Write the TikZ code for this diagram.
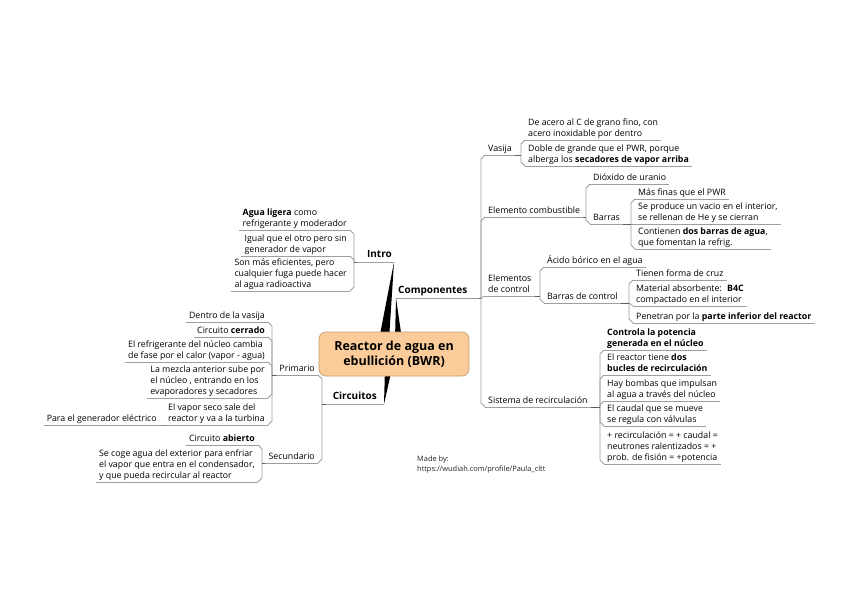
\documentclass[tikz,border=0pt]{standalone}
\usepackage{fontspec}
\setmainfont{Open Sans}
\usetikzlibrary{calc,backgrounds}
\definecolor{lnk}{RGB}{158,158,158}
\definecolor{stubc}{RGB}{95,95,95}
\definecolor{rootfill}{RGB}{251,204,153}
\definecolor{rootdraw}{RGB}{196,158,118}
\newcommand\mystrut{\rule[-2.9pt]{0pt}{8pt}}
\newcommand\linkR[2]{%
  \draw[conn] let \p1=(#1.south east), \p2=(#2.south west),
    \n1={max(-4,min(4,\y2-(\y1)))} in
    (\x2-4pt,\y1) -- (\x2-4pt,\y2-\n1*1pt) -- (\p2);
  \draw[stub] let \p1=(#1.south east), \p2=(#2.south west) in
    (\p1) -- (\x2-4pt,\y1);}
\newcommand\linkL[2]{%
  \draw[conn] let \p1=(#1.south west), \p2=(#2.south east),
    \n1={max(-4,min(4,\y2-(\y1)))} in
    (\x2+4pt,\y1) -- (\x2+4pt,\y2-\n1*1pt) -- (\p2);
  \draw[stub] let \p1=(#1.south west), \p2=(#2.south east) in
    (\p1) -- (\x2+4pt,\y1);}
\begin{document}
\begin{tikzpicture}[x=1pt,y=-1pt,
  topic/.style={inner xsep=3pt,inner ysep=0pt,align=left,
    font=\fontsize{8.8}{11}\selectfont,execute at end node=\mystrut},
  R/.style={topic,anchor=south west},
  L/.style={topic,anchor=south east},
  mainT/.style={inner xsep=2pt,inner ysep=1pt,
    font=\fontsize{10}{12}\selectfont\bfseries,execute at end node=\strut},
  conn/.style={draw=lnk,line width=0.8pt},
  stub/.style={draw=stubc,line width=0.9pt},
  ul/.style={draw=lnk,line width=0.8pt},
  wedge/.style={fill=black},
  rootbox/.style={draw=rootdraw,fill=rootfill,rounded corners=7pt,
    minimum width=150pt,minimum height=44pt,align=center,line width=0.7pt,
    font=\fontsize{12.5}{15}\selectfont\bfseries}]
\useasboundingbox (0,0) rectangle (848,599);

% root and main topics
\node[rootbox] (root) at (394,354) {Reactor de agua en\\ebullición (BWR)};
\node[mainT,anchor=south west,text width=79pt,align=left] (comp) at (396,298) {Componentes};
\node[mainT,anchor=south east,text width=34pt,align=right] (intro) at (394,262) {Intro};
\node[mainT,anchor=south east,text width=54pt,align=center] (circ) at (384,404) {Circuitos};

\begin{scope}[on background layer]
  \fill[white] (0,0) rectangle (848,599);
  \fill[wedge] (intro.south east) -- ($(root.north)+(-15,8)$) -- ($(root.north)+(-5,8)$) -- cycle;
  \fill[wedge] (comp.south west) -- ($(root.north)+(1,8)$) -- ($(root.north)+(8,8)$) -- cycle;
  \fill[wedge] (circ.south east) -- ($(root.south)+(-9,-8)$) -- ($(root.south)+(-2,-8)$) -- cycle;
\end{scope}

% Componentes branch
\node[R] (vas) at (485,155) {Vasija};
\node[R] (vas1) at (525,140) {De acero al C de grano fino, con\\acero inoxidable por dentro};
\node[R] (vas2) at (525,166) {Doble de grande que el PWR, porque\\alberga los \textbf{secadores de vapor arriba}};
\node[R] (ecomb) at (485,217) {Elemento combustible};
\node[R] (ecomb1) at (590,184) {Dióxido de uranio};
\node[R] (barras) at (590,224) {Barras};
\node[R] (bar1) at (635,199) {Más finas que el PWR};
\node[R] (bar2) at (635,224) {Se produce un vacio en el interior,\\se rellenan de He y se cierran};
\node[R] (bar3) at (635,249) {Contienen \textbf{dos barras de agua},\\que fomentan la refrig.};
\node[R] (ectrl) at (485,296) {Elementos\\de control};
\node[R] (ctrl1) at (544,267) {Ácido bórico en el agua};
\node[R] (bctrl) at (544,303) {Barras de control};
\node[R] (bc1) at (633,280) {Tienen forma de cruz};
\node[R] (bc2) at (633,306) {Material absorbente:~ \textbf{B4C}\\compactado en el interior};
\node[R] (bc3) at (633,323) {Penetran por la \textbf{parte inferior del reactor}};
\node[R] (sist) at (485,407) {Sistema de recirculación};
\node[R] (s1) at (604,350) {\textbf{Controla la potencia}\\\textbf{generada en el núcleo}};
\node[R] (s2) at (604,375) {El reactor tiene \textbf{dos}\\\textbf{bucles de recirculación}};
\node[R] (s3) at (604,401) {Hay bombas que impulsan\\al agua a través del núcleo};
\node[R] (s4) at (604,426) {El caudal que se mueve\\se regula con válvulas};
\node[R] (s5) at (604,464) {+ recirculación = + caudal =\\neutrones ralentizados = +\\prob. de fisión = +potencia};

% Intro branch
\node[L] (in1) at (350,230) {\textbf{Agua ligera} como\\refrigerante y moderador};
\node[L] (in2) at (350,256) {Igual que el otro pero sin\\generador de vapor};
\node[L] (in3) at (350,291) {Son más eficientes, pero\\cualquier fuga puede hacer\\al agua radioactiva};

% Circuitos branch
\node[L] (prim) at (318,375) {Primario};
\node[L] (sec) at (318,463) {Secundario};
\node[L] (p1) at (268,322) {Dentro de la vasija};
\node[L] (p2) at (268,337) {Circuito \textbf{cerrado}};
\node[L] (p3) at (268,362) {El refrigerante del núcleo cambia\\de fase por el calor (vapor - agua)};
\node[L] (p4) at (268,398) {La mezcla anterior sube por\\el núcleo , entrando en los\\evaporadores y secadores};
\node[L] (p5) at (268,425) {El vapor seco sale del\\reactor y va a la turbina};
\node[L] (p5a) at ($(p5.south west)+(-5,0)$) {Para el generador eléctrico};
\node[L] (sc1) at (258,445) {Circuito \textbf{abierto}};
\node[L] (sc2) at (258,482) {Se coge agua del exterior para enfriar\\el vapor que entra en el condensador,\\y que pueda recircular al reactor};

\node[anchor=north west,align=left,inner sep=0pt,text=black!85,
  font=\fontsize{7.4}{9.5}\selectfont] (madeby) at (417,456)
  {Made by:\\https://wudiah.com/profile/Paula\_cltt};

% underlines
\foreach \n in {comp,intro,circ,vas,vas1,vas2,ecomb,ecomb1,barras,bar1,bar2,bar3,
  ectrl,ctrl1,bctrl,bc1,bc2,bc3,sist,s1,s2,s3,s4,s5,in1,in2,in3,
  prim,sec,p1,p2,p3,p4,p5,p5a,sc1,sc2}
  \draw[ul] (\n.south west) -- (\n.south east);

% connectors
\foreach \c in {vas,ecomb,ectrl,sist} \linkR{comp}{\c};
\foreach \c in {vas1,vas2} \linkR{vas}{\c};
\foreach \c in {ecomb1,barras} \linkR{ecomb}{\c};
\foreach \c in {bar1,bar2,bar3} \linkR{barras}{\c};
\foreach \c in {ctrl1,bctrl} \linkR{ectrl}{\c};
\foreach \c in {bc1,bc2,bc3} \linkR{bctrl}{\c};
\foreach \c in {s1,s2,s3,s4,s5} \linkR{sist}{\c};
\foreach \c in {in1,in2,in3} \linkL{intro}{\c};
\foreach \c in {prim,sec} \linkL{circ}{\c};
\foreach \c in {p1,p2,p3,p4,p5} \linkL{prim}{\c};
\linkL{p5}{p5a};
\foreach \c in {sc1,sc2} \linkL{sec}{\c};
\end{tikzpicture}
\end{document}
